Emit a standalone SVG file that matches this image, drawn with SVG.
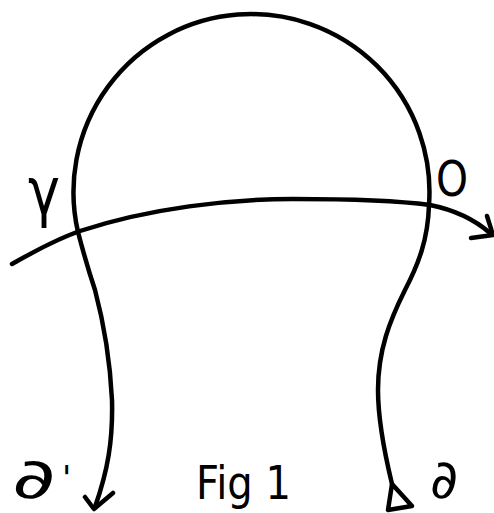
<svg xmlns="http://www.w3.org/2000/svg" width="494" height="513" viewBox="0 0 494 513">
<style>
.s{fill:none;stroke:#000;stroke-width:4.5;stroke-linecap:round;stroke-linejoin:round}
.t{font-family:"DejaVu Sans",sans-serif;fill:#000}
</style>
<rect width="494" height="513" fill="#fff"/>
<g id="connectors">
<path class="s" d="M78,232 A178,178 0 1 1 429,205"/>
<path class="s" d="M78,232 C84,255 90,275 95,290 C103,320 110,360 112,400 C113,440 108,470 95,507"/>
<path class="s" d="M85,497 L94,509 L113,493"/>
<path class="s" d="M429,205 C428,240 418,265 405,290 C390,320 378,350 378,390 C378,420 385,455 392,484"/>
<path class="s" d="M392,484 L388,510 L412,506 Z"/>
<path class="s" d="M12,264 C40,248 60,238 80,231 C150,208 230,199 293,199 C360,199 400,201 430,205 C455,210 475,220 490,233"/>
<path class="s" d="M471,238 L493,235 L487,216"/>
</g>
<g id="labels">
<text class="t" x="28" y="214" font-size="66" textLength="32" lengthAdjust="spacingAndGlyphs">γ</text>
<text class="t" x="436" y="196" font-size="50" textLength="32" lengthAdjust="spacingAndGlyphs">O</text>
<text class="t" x="12" y="498" font-size="56" textLength="44" lengthAdjust="spacingAndGlyphs">∂</text>
<text class="t" x="62" y="490" font-size="34">'</text>
<text class="t" x="196" y="499" font-size="46" textLength="95" lengthAdjust="spacingAndGlyphs">Fig 1</text>
<text class="t" x="430" y="498" font-size="54" textLength="28" lengthAdjust="spacingAndGlyphs">∂</text>
</g>
</svg>
